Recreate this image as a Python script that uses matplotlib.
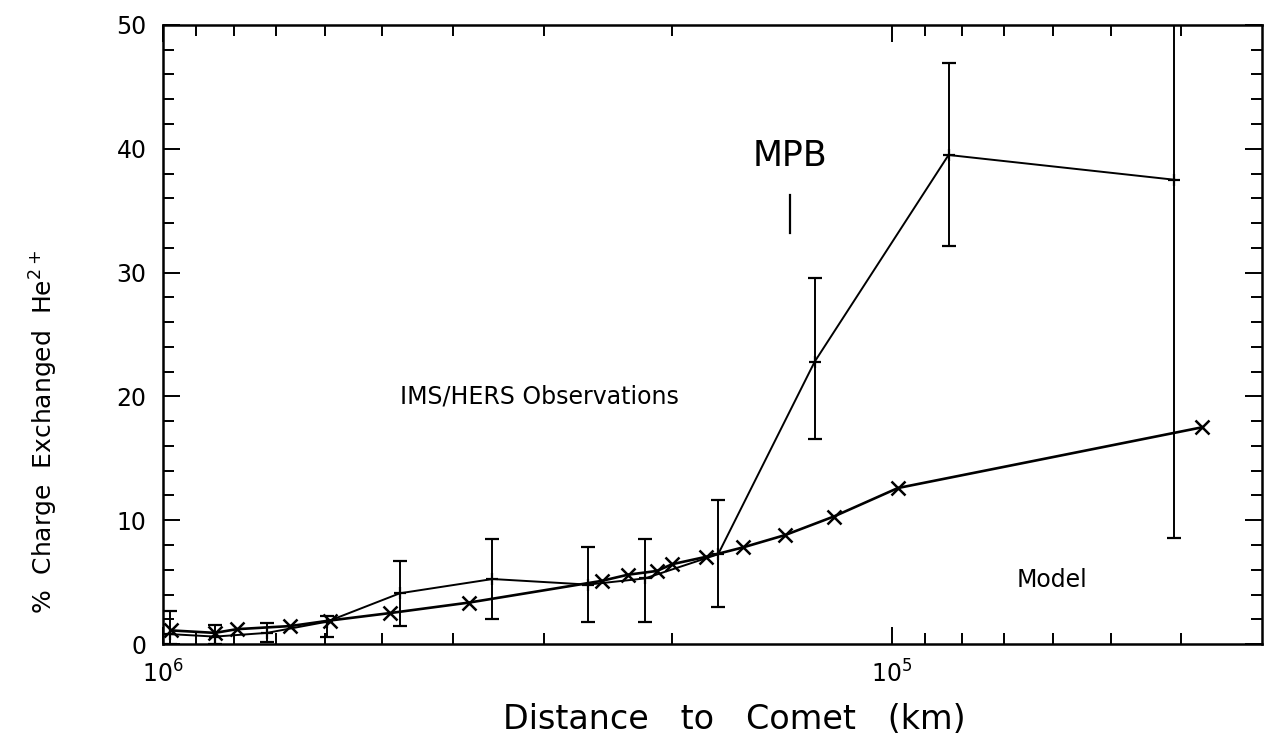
import numpy as np
import matplotlib
matplotlib.use("Agg")
import matplotlib.pyplot as plt
from matplotlib.ticker import LogLocator, NullFormatter, MultipleLocator

# IMS/HERS observations (distance in km, percent, error bar limits)
obsDistance = [978e3, 849e3, 720e3, 596e3, 473e3, 353e3, 261e3, 218e3, 173e3, 127.5e3, 83.5e3, 40.9e3]
obsValue = [0.8, 0.6, 0.9, 1.8, 4.1, 5.25, 4.8, 5.3, 7.25, 22.8, 39.5, 37.5]
obsUpper = [2.7, 1.5, 1.7, 2.3, 6.7, 8.5, 7.85, 8.5, 11.6, 29.6, 46.9, 60.0]
obsLower = [0.0, 0.0, 0.2, 0.6, 1.45, 2.0, 1.8, 1.8, 3.0, 16.6, 32.15, 8.6]

# model curve
modelDistance = [975e3, 849e3, 792e3, 669e3, 590e3, 488e3, 380e3, 250e3, 230e3, 210e3,
                 200e3, 179.5e3, 160e3, 140e3, 120e3, 98e3, 37.5e3]
modelValue = [1.1, 0.9, 1.2, 1.45, 1.9, 2.5, 3.35, 5.1, 5.6, 5.9,
              6.45, 7.05, 7.8, 8.8, 10.3, 12.6, 17.5]

# MPB marker position
mpbDistance = 138e3
mpbRange = [33.2, 36.3]


def main():
    plt.rcParams['font.family'] = ['DejaVu Sans']
    fig = plt.figure(figsize=(12.74, 7.5), dpi=100)
    ax = fig.add_axes([0.128, 0.1413, 0.8626, 0.8254])

    obsX = np.array(obsDistance)
    obsY = np.array(obsValue)
    yErr = np.array([obsY - np.array(obsLower), np.array(obsUpper) - obsY])

    ax.errorbar(obsX, obsY, yerr=yErr, color="black", linewidth=1.4, elinewidth=1.4,
                capsize=5, capthick=1.6, marker="+", markersize=9, markeredgewidth=1.6)
    ax.plot(modelDistance, modelValue, color="black", linewidth=1.9,
            marker="x", markersize=10, markeredgewidth=1.8)

    ax.plot([mpbDistance, mpbDistance], mpbRange, color="black", linewidth=1.6)
    ax.text(mpbDistance, 39.4, "MPB", fontsize=25, ha="center", va="center")
    ax.text(304e3, 20.0, "IMS/HERS Observations", fontsize=17, ha="center", va="center")
    ax.text(60.3e3, 5.2, "Model", fontsize=17, ha="center", va="center")

    ax.set_xscale("log")
    ax.set_xlim(1e6, 3.1e4)
    ax.set_ylim(0, 50)
    ax.xaxis.set_major_locator(LogLocator(base=10))
    ax.xaxis.set_minor_locator(LogLocator(base=10, subs=np.arange(2, 10)))
    ax.xaxis.set_minor_formatter(NullFormatter())
    ax.yaxis.set_major_locator(MultipleLocator(10))
    ax.yaxis.set_minor_locator(MultipleLocator(2))

    ax.tick_params(which="both", direction="in", top=True, right=True, width=1.4)
    ax.tick_params(which="major", length=12, labelsize=17, pad=12)
    ax.tick_params(which="minor", length=8)
    for spine in ax.spines.values():
        spine.set_linewidth(1.8)

    ax.set_xlabel("Distance   to   Comet   (km)", fontsize=24)
    ax.set_ylabel("%  Charge  Exchanged  He$^{2+}$", fontsize=18)
    ax.xaxis.set_label_coords(0.52, -0.095)
    ax.yaxis.set_label_coords(-0.094, 0.342)

    fig.savefig("out.png", dpi=100)


if __name__ == "__main__":
    main()
